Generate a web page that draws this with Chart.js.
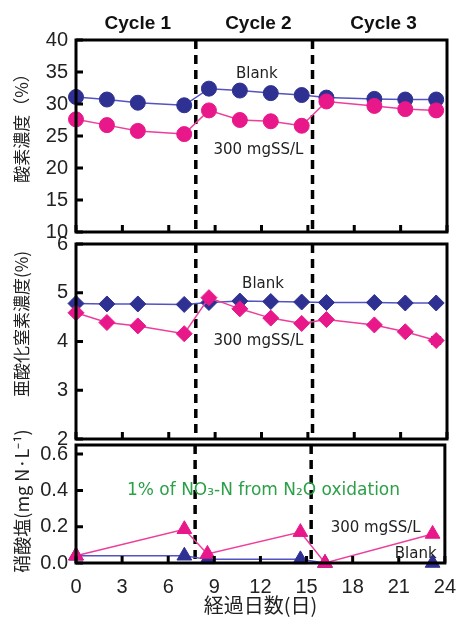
<!DOCTYPE html>
<html>
<head>
<meta charset="utf-8">
<script src="https://cdn.jsdelivr.net/npm/chart.js@4.4.0/dist/chart.umd.min.js"></script>
<style>
  body { margin: 0; background: #fff; }
  #wrap { position: relative; width: 460px; height: 617px; overflow: hidden; }
  canvas { position: absolute; left: 0; }
</style>
</head>
<body>
<div id="wrap">
  <canvas id="o2Chart" width="460" height="252" style="top:0px"></canvas>
  <canvas id="n2oChart" width="460" height="235" style="top:224px"></canvas>
  <canvas id="no3Chart" width="460" height="192" style="top:425px"></canvas>
</div>
<script>
// 경과일 (x축)
const dayTicks = [0, 3, 6, 9, 12, 15, 18, 21, 24];
const cycleBreaks = [7.75, 15.3];
const cycleNames = ["Cycle 1", "Cycle 2", "Cycle 3"];
const cycleCenters = [4.0, 11.8, 19.9];

// 가스 측정일 (산소, 아산화질소)
const gasDays = [0, 2, 4, 7, 8.6, 10.6, 12.6, 14.6, 16.2, 19.3, 21.3, 23.3];

// 산소 농도 (%)
const o2Blank = [31.1, 30.7, 30.2, 29.8, 32.4, 32.1, 31.7, 31.4, 31.0, 30.8, 30.7, 30.7];
const o2BlankErr = [0.5, 0.5, 0.5, 0.4, 0.3, 0.3, 0.3, 0.3, 0.3, 0.3, 0.4, 0.4];
const o2Sludge = [27.6, 26.7, 25.8, 25.3, 29.0, 27.5, 27.3, 26.6, 30.4, 29.7, 29.2, 29.0];
const o2SludgeErr = [0.2, 0.2, 0.2, 0.2, 0.5, 0.2, 0.2, 0.2, 0.4, 0.5, 0.5, 0.5];

// 아산화질소 농도 (%)
const n2oBlank = [4.78, 4.77, 4.77, 4.76, 4.80, 4.83, 4.82, 4.81, 4.80, 4.80, 4.79, 4.79];
const n2oSludge = [4.59, 4.39, 4.32, 4.16, 4.90, 4.67, 4.48, 4.37, 4.45, 4.34, 4.20, 4.02];
const n2oSludgeErr = [0.02, 0.02, 0.02, 0.04, 0.02, 0.02, 0.02, 0.02, 0.03, 0.04, 0.03, 0.07];

// 질산염 (mg N/L)
const no3Days = [0, 7.05, 8.55, 14.6, 16.2, 23.2];
const no3Blank = [0.04, 0.04, 0.02, 0.02, 0, 0];
const no3Sludge = [0.04, 0.186, 0.05, 0.17, 0, 0.16];

const blueMark = "#2e3192";
const blueLine = "#5353c2";
const pinkMark = "#e8178a";
const pinkLine = "#ee3d9c";
const noteFont = "15px 'DejaVu Sans'";

function pts(days, vals) {
  return days.map((d, i) => ({ x: d, y: vals[i] }));
}

// 패널 장식 플러그인 (구분선, 오차막대, 테두리, 눈금, 주석)
const panelDecor = {
  id: "panelDecor",
  beforeDatasetsDraw(chart, args, opts) {
    const { ctx, chartArea: a, scales: { x, y } } = chart;
    ctx.save();
    ctx.strokeStyle = "#000";
    ctx.lineWidth = 3.5;
    ctx.setLineDash([9, 6]);
    cycleBreaks.forEach((d) => {
      const px = x.getPixelForValue(d);
      ctx.beginPath();
      ctx.moveTo(px, a.top);
      ctx.lineTo(px, a.bottom);
      ctx.stroke();
    });
    ctx.setLineDash([]);
    ctx.lineWidth = 1.5;
    chart.data.datasets.forEach((ds) => {
      if (!ds.errors) return;
      ds.data.forEach((p, i) => {
        const e = ds.errors[i];
        if (!e) return;
        const px = x.getPixelForValue(p.x);
        const y1 = y.getPixelForValue(p.y + e);
        const y2 = y.getPixelForValue(p.y - e);
        ctx.beginPath();
        ctx.moveTo(px, y1); ctx.lineTo(px, y2);
        ctx.moveTo(px - 5, y1); ctx.lineTo(px + 5, y1);
        ctx.moveTo(px - 5, y2); ctx.lineTo(px + 5, y2);
        ctx.stroke();
      });
    });
    ctx.restore();
  },
  afterDraw(chart, args, opts) {
    const { ctx, chartArea: a, scales: { x, y } } = chart;
    ctx.save();
    // 테두리
    ctx.strokeStyle = "#000";
    ctx.lineWidth = 3;
    ctx.strokeRect(a.left, a.top, a.right - a.left, a.bottom - a.top);
    // 안쪽 눈금
    ctx.beginPath();
    y.ticks.forEach((t) => {
      const py = y.getPixelForValue(t.value);
      ctx.moveTo(a.left, py);
      ctx.lineTo(a.left + 7, py);
    });
    dayTicks.forEach((d) => {
      const px = x.getPixelForValue(d);
      ctx.moveTo(px, a.bottom);
      ctx.lineTo(px, a.bottom - 7);
    });
    ctx.stroke();
    // 세로 축 제목
    ctx.fillStyle = "#222";
    ctx.font = opts.titleFont;
    ctx.textAlign = "center";
    ctx.textBaseline = "middle";
    ctx.translate(22, opts.titleY);
    ctx.rotate(-Math.PI / 2);
    ctx.fillText(opts.title, 0, 0);
    ctx.setTransform(1, 0, 0, 1, 0, 0);
    // 사이클 라벨
    if (opts.cycles) {
      ctx.font = "bold 19px 'Liberation Sans'";
      ctx.fillStyle = "#111";
      cycleNames.forEach((n, i) => {
        ctx.fillText(n, x.getPixelForValue(cycleCenters[i]), a.top - 16);
      });
    }
    // 주석
    (opts.notes || []).forEach((nt) => {
      ctx.font = nt.font || noteFont;
      ctx.fillStyle = nt.color || "#222";
      ctx.fillText(nt.text, x.getPixelForValue(nt.x), y.getPixelForValue(nt.y));
    });
    ctx.restore();
  },
};

const tickFont = { family: "'Liberation Sans'", size: 20 };

function makeChart(id, datasets, yOpts, padding, decor, showX) {
  return new Chart(document.getElementById(id).getContext("2d"), {
    type: "line",
    data: { datasets: datasets },
    options: {
      responsive: false,
      animation: false,
      layout: { padding: padding },
      plugins: {
        legend: { display: false },
        tooltip: { enabled: false },
        panelDecor: decor,
      },
      scales: {
        x: {
          type: "linear",
          min: 0,
          max: 24,
          display: showX,
          grid: { display: false },
          border: { display: false },
          ticks: { stepSize: 3, color: "#222", font: tickFont, padding: 4, maxRotation: 0, autoSkip: false },
          title: {
            display: showX,
            text: "経過日数(日)",
            color: "#222",
            font: { family: "'Noto Sans CJK JP'", size: 20 },
            padding: 0,
          },
          afterFit: (s) => { s.height = showX ? 54 : 0; },
        },
        y: Object.assign({
          grid: { display: false, drawTicks: false },
          border: { display: false },
          afterFit: (s) => { s.width = 76; },
        }, yOpts),
      },
    },
    plugins: [panelDecor],
  });
}

function lineSet(data, line, mark, style, radius, errors) {
  return {
    data: data,
    borderColor: line,
    backgroundColor: mark,
    pointBorderColor: mark,
    pointBackgroundColor: mark,
    borderWidth: 1.5,
    pointStyle: style,
    pointRadius: radius,
    pointBorderWidth: 1,
    tension: 0,
    clip: false,
    errors: errors,
  };
}

// 산소 농도 차트
makeChart("o2Chart", [
  lineSet(pts(gasDays, o2Sludge), pinkLine, pinkMark, "circle", 7.5, o2SludgeErr),
  lineSet(pts(gasDays, o2Blank), blueLine, blueMark, "circle", 7.5, o2BlankErr),
], {
  min: 10, max: 40,
  ticks: { stepSize: 5, autoSkip: false, color: "#222", font: tickFont, padding: 8 },
}, { left: 0, right: 13, top: 40, bottom: 0 }, {
  title: "酸素濃度（%）",
  titleFont: "17px 'Noto Sans CJK JP'",
  titleY: 124,
  cycles: true,
  notes: [
    { text: "Blank", x: 11.7, y: 34.6 },
    { text: "300 mgSS/L", x: 11.8, y: 22.8 },
  ],
}, false);

// 아산화질소 농도 차트
makeChart("n2oChart", [
  lineSet(pts(gasDays, n2oSludge), pinkLine, pinkMark, "rectRot", 8, n2oSludgeErr),
  lineSet(pts(gasDays, n2oBlank), blueLine, blueMark, "rectRot", 8, null),
], {
  min: 2, max: 6,
  ticks: { stepSize: 1, autoSkip: false, color: "#222", font: tickFont, padding: 8 },
}, { left: 0, right: 13, top: 0, bottom: 0 }, {
  title: "亜酸化窒素濃度(%)",
  titleFont: "17px 'Noto Sans CJK JP'",
  titleY: 100,
  notes: [
    { text: "Blank", x: 12.1, y: 5.17 },
    { text: "300 mgSS/L", x: 11.8, y: 4.0 },
  ],
}, false);

// 질산염 차트
makeChart("no3Chart", [
  lineSet(pts(no3Days, no3Sludge), pinkLine, pinkMark, "triangle", 8.5, null),
  lineSet(pts(no3Days, no3Blank), blueLine, blueMark, "triangle", 8.5, null),
], {
  min: 0, max: 0.65,
  ticks: {
    stepSize: 0.2, includeBounds: false, autoSkip: false, color: "#222", font: tickFont, padding: 8,
    callback: (v) => v.toFixed(1),
  },
}, { left: 0, right: 13, top: 20, bottom: 0 }, {
  title: "硝酸塩(mg N·L⁻¹)",
  titleFont: "18px 'Noto Sans CJK JP'",
  titleY: 76,
  notes: [
    { text: "1% of NO₃-N from N₂O oxidation", x: 12.2, y: 0.40, color: "#2ca048", font: "17px 'DejaVu Sans'" },
    { text: "300 mgSS/L", x: 19.5, y: 0.19 },
    { text: "Blank", x: 22.1, y: 0.05 },
  ],
}, true);
</script>
</body>
</html>
